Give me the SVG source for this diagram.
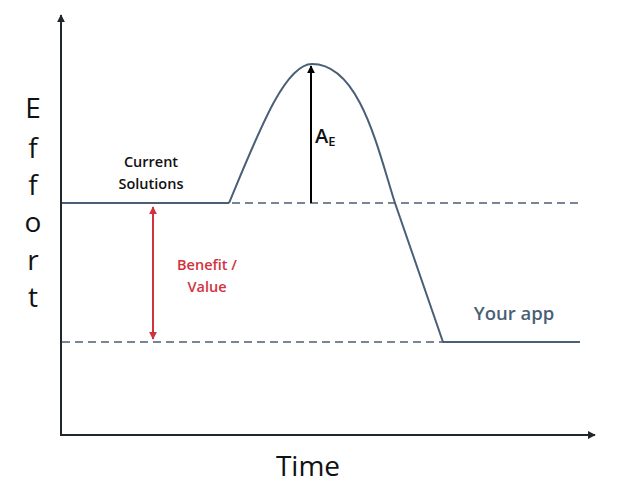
<svg xmlns="http://www.w3.org/2000/svg" width="622" height="496" viewBox="0 0 622 496">
  <defs>
    <marker id="axisHead" viewBox="0 0 10 10" refX="9" refY="5" markerWidth="4" markerHeight="4" orient="auto">
      <path d="M0,0 L10,5 L0,10 z" fill="#1f2630"/>
    </marker>
    <marker id="blackHead" viewBox="0 0 10 10" refX="9" refY="5" markerWidth="4" markerHeight="4" orient="auto">
      <path d="M0,0 L10,5 L0,10 z" fill="#000"/>
    </marker>
    <marker id="redHead" viewBox="0 0 10 10" refX="9" refY="5" markerWidth="4" markerHeight="4" orient="auto-start-reverse">
      <path d="M0,0 L10,5 L0,10 z" fill="#d2323d"/>
    </marker>
    <style>
      .axis { stroke: #1f2630; stroke-width: 2; fill: none; }
      .level { stroke: #4a5f75; stroke-width: 2; fill: none; }
      .dash { stroke: #4a5f75; stroke-width: 1.6; stroke-dasharray: 8 5; fill: none; }
      .label { font-family: "Open Sans", "Liberation Sans", sans-serif; }
      .axisLabel { font-size: 28px; fill: #111; text-anchor: middle; }
    </style>
  </defs>

  <!-- axes -->
  <g id="axes">
    <line class="axis" x1="61" y1="435" x2="61" y2="15" marker-end="url(#axisHead)"/>
    <line class="axis" x1="60" y1="435" x2="595" y2="435" marker-end="url(#axisHead)"/>
  </g>

  <!-- reference levels and effort curve -->
  <g id="connectors">
    <line class="dash" x1="232" y1="203" x2="580" y2="203"/>
    <line class="dash" x1="62" y1="342" x2="442" y2="342"/>
    <line class="level" x1="62" y1="203" x2="229" y2="203"/>
    <path class="level" d="M229,203 C259,131 285,64 312,64 C360,64 378,150 395,203 L443,342 L580,342"/>
    <line x1="311" y1="203" x2="311" y2="66" stroke="#000" stroke-width="2" marker-end="url(#blackHead)"/>
    <line x1="153" y1="207" x2="153" y2="339" stroke="#d2323d" stroke-width="2" marker-start="url(#redHead)" marker-end="url(#redHead)"/>
  </g>

  <!-- vertical axis title -->
  <g id="effort-label" class="label axisLabel">
    <text x="33" y="118">E</text>
    <text x="33" y="158">f</text>
    <text x="33" y="195">f</text>
    <text x="33" y="232">o</text>
    <text x="33" y="270">r</text>
    <text x="33" y="307">t</text>
  </g>

  <g id="time-label">
    <text class="label axisLabel" x="308" y="476">Time</text>
  </g>

  <g id="current-solutions">
    <text class="label" x="151" y="167" font-size="14.5" font-weight="600" fill="#111" text-anchor="middle">Current</text>
    <text class="label" x="151" y="189" font-size="14.5" font-weight="600" fill="#111" text-anchor="middle">Solutions</text>
  </g>

  <g id="benefit-value">
    <text class="label" x="207" y="270" font-size="14.5" font-weight="600" fill="#d2323d" text-anchor="middle">Benefit /</text>
    <text class="label" x="207" y="292" font-size="14.5" font-weight="600" fill="#d2323d" text-anchor="middle">Value</text>
  </g>

  <g id="activation-energy">
    <text class="label" x="315" y="143" font-size="20" font-weight="600" fill="#111">A<tspan font-size="13" dy="3">E</tspan></text>
  </g>

  <g id="your-app">
    <text class="label" x="514" y="320" font-size="18.5" font-weight="600" fill="#4a5f75" text-anchor="middle">Your app</text>
  </g>
</svg>
